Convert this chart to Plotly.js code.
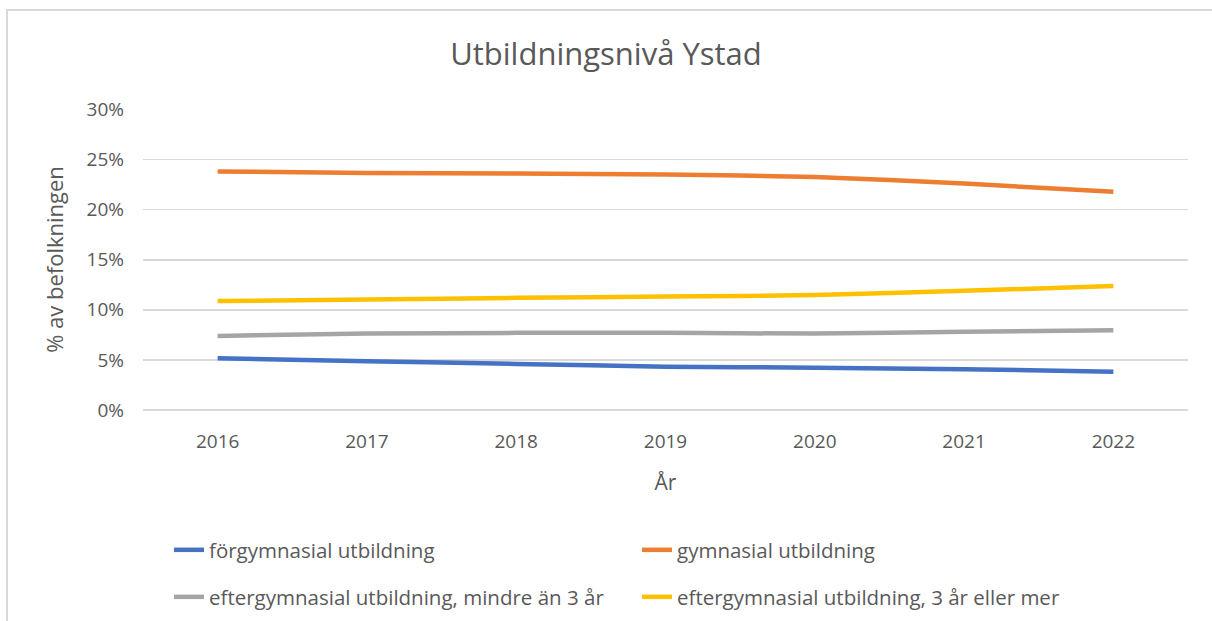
<!DOCTYPE html>
<html>
<head>
<meta charset="utf-8">
<script src="https://cdn.plot.ly/plotly-3.0.1.min.js"></script>
<style>
  html, body { margin: 0; padding: 0; background: #fff; }
  #wrap { position: relative; width: 1212px; height: 621px; overflow: hidden; }
  #chart { position: absolute; left: 0; top: 0; width: 1212px; height: 621px; }
  #frame { position: absolute; left: 6px; top: 9px; width: 1300px; height: 700px;
           border-top: 2px solid #d9d9d9; border-left: 2px solid #d9d9d9; pointer-events: none; }
</style>
</head>
<body>
<div id="wrap">
  <div id="chart"></div>
  <div id="frame"></div>
</div>
<script>
const years = ['2016', '2017', '2018', '2019', '2020', '2021', '2022'];
const forgymnasial = [0.0517, 0.0487, 0.0460, 0.0433, 0.0423, 0.0407, 0.0383];
const gymnasial = [0.2382, 0.2366, 0.2360, 0.2350, 0.2327, 0.2260, 0.2180];
const efterMindre3 = [0.0740, 0.0763, 0.0770, 0.0770, 0.0763, 0.0780, 0.0797];
const efter3Mer = [0.1087, 0.1103, 0.1120, 0.1133, 0.1147, 0.1190, 0.1237];

const names = ['förgymnasial utbildning', 'gymnasial utbildning',
               'eftergymnasial utbildning, mindre än 3 år', 'eftergymnasial utbildning, 3 år eller mer'];
const colors = ['#4472C4', '#ED7D31', '#A5A5A5', '#FFC000'];
const series = [forgymnasial, gymnasial, efterMindre3, efter3Mer];
const legends = ['legend', 'legend', 'legend2', 'legend2'];

const FONT = 'Open Sans, sans-serif';
const GREY = '#595959';

const traces = series.map((vals, i) => ({
  x: years, y: vals, name: names[i], type: 'scatter', mode: 'lines',
  line: { color: colors[i], width: 4.5, shape: 'spline', smoothing: 0.6 },
  legend: legends[i], hoverinfo: 'x+y+name'
}));

const legendFont = { family: FONT, size: 20.5, color: GREY };
const layout = {
  width: 1212, height: 621,
  margin: { l: 143, r: 24, t: 109, b: 211 },
  paper_bgcolor: '#ffffff', plot_bgcolor: '#ffffff',
  font: { family: FONT, color: GREY },
  title: { text: 'Utbildningsnivå Ystad', font: { family: FONT, size: 31, color: GREY },
           x: 0.5, xanchor: 'center', xref: 'container', y: 0.912, yanchor: 'middle' },
  xaxis: {
    type: 'category', range: [-0.5, 6.5], showgrid: false, zeroline: false, showline: false,
    ticks: '', tickfont: { family: FONT, size: 19, color: GREY }, ticklabelstandoff: 18,
    title: { text: 'År', font: { family: FONT, size: 21, color: GREY }, standoff: 22 }
  },
  yaxis: {
    range: [0, 0.3005], dtick: 0.05, tickformat: '.0%', showgrid: true, gridcolor: '#d9d9d9', gridwidth: 1.5,
    zeroline: true, zerolinecolor: '#d9d9d9', zerolinewidth: 1.5, showline: false, ticks: '',
    tickfont: { family: FONT, size: 19, color: GREY }, ticklabelstandoff: 18,
    title: { text: '% av befolkningen', font: { family: FONT, size: 22, color: GREY }, standoff: 16 }
  },
  showlegend: true,
  legend: { orientation: 'h', xref: 'container', yref: 'container', yanchor: 'middle',
            font: legendFont, entrywidth: 423, entrywidthmode: 'pixels', bgcolor: 'rgba(0,0,0,0)',
            itemwidth: 30, traceorder: 'normal' },
  legend2: { orientation: 'h', xref: 'container', yref: 'container', yanchor: 'middle',
             font: legendFont, entrywidth: 423, entrywidthmode: 'pixels', bgcolor: 'rgba(0,0,0,0)',
             itemwidth: 30, traceorder: 'normal' }
};
layout.legend.y = 1 - 550 / 621;
layout.legend2.y = 1 - 597 / 621;
layout.legend.x = 169 / 1212;
layout.legend2.x = 169 / 1212;

Plotly.newPlot('chart', traces, layout, { displayModeBar: false, staticPlot: true });
</script>
</body>
</html>
